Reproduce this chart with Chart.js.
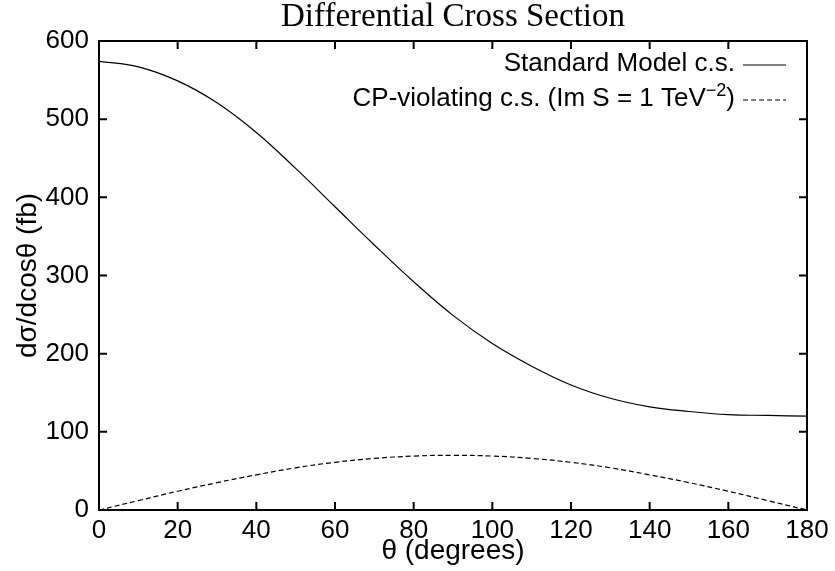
<!DOCTYPE html>
<html>
<head>
<meta charset="utf-8">
<script src="https://cdn.jsdelivr.net/npm/chart.js@4/dist/chart.umd.min.js"></script>
<style>
  html, body { margin: 0; padding: 0; background: #fff; }
</style>
</head>
<body>
<canvas id="csChart" width="835" height="571"></canvas>
<script>
// scattering angle theta (degrees)
const angles = [0, 10, 20, 30, 40, 50, 60, 70, 80, 90, 100, 110, 120, 130, 140, 150, 160, 170, 180];
// d sigma / d cos theta (fb)
const smValues = [574, 567, 549, 521, 483, 437, 388, 339, 292, 249, 213, 184, 160, 143, 132, 126, 122, 121, 120];
const cpValues = [0, 12, 24, 35, 45, 54, 61, 66, 69, 70, 69, 66, 61, 54, 45, 35, 24, 12, 0];

const xTicks = [0, 20, 40, 60, 80, 100, 120, 140, 160, 180];
const yTicks = [0, 100, 200, 300, 400, 500, 600];

const chartTitle = 'Differential Cross Section';
const smLabel = 'Standard Model c.s.';
const cpLabel = 'CP-violating c.s. (Im S = 1 TeV^{\u22122})';

const sansFont = '"Liberation Sans", Arial, Helvetica, sans-serif';
const serifFont = '"Liberation Serif", "Times New Roman", serif';

const toPoints = vals => angles.map((a, i) => ({ x: a, y: vals[i] }));

// box + inward ticks on all four sides (gnuplot look)
const framePlugin = {
  id: 'frame',
  afterDatasetsDraw(chart) {
    const { ctx, chartArea: a, scales: { x, y } } = chart;
    ctx.save();
    ctx.strokeStyle = '#000';
    ctx.lineWidth = 2;
    ctx.strokeRect(a.left, a.top, a.right - a.left, a.bottom - a.top);
    ctx.beginPath();
    x.ticks.forEach(t => {
      const px = x.getPixelForValue(t.value);
      ctx.moveTo(px, a.bottom); ctx.lineTo(px, a.bottom - 8);
      ctx.moveTo(px, a.top); ctx.lineTo(px, a.top + 8);
    });
    y.ticks.forEach(t => {
      const py = y.getPixelForValue(t.value);
      ctx.moveTo(a.left, py); ctx.lineTo(a.left + 8, py);
      ctx.moveTo(a.right, py); ctx.lineTo(a.right - 8, py);
    });
    ctx.stroke();
    ctx.restore();
  }
};

// title centred over the plot area
const titlePlugin = {
  id: 'plotTitle',
  afterDraw(chart) {
    const { ctx, chartArea: a } = chart;
    ctx.save();
    ctx.fillStyle = '#000';
    ctx.font = '33px ' + serifFont;
    ctx.textAlign = 'center';
    ctx.textBaseline = 'alphabetic';
    ctx.fillText(chartTitle, (a.left + a.right) / 2, 26);
    ctx.restore();
  }
};

// right aligned key with the line sample after the text, ^{..} = superscript
const keyPlugin = {
  id: 'key',
  afterDraw(chart) {
    const { ctx, chartArea: a } = chart;
    const textRight = a.right - 72;
    ctx.save();
    ctx.fillStyle = '#000';
    ctx.textBaseline = 'alphabetic';
    chart.data.datasets.forEach((ds, i) => {
      const base = a.top + 30 + i * 35;
      const parts = ds.label.split(/\^\{(.*?)\}/);
      const fonts = parts.map((p, k) => (k % 2 ? '18px ' : '26px ') + sansFont);
      let w = 0;
      parts.forEach((p, k) => { ctx.font = fonts[k]; w += ctx.measureText(p).width; });
      let x0 = textRight - w;
      ctx.textAlign = 'left';
      parts.forEach((p, k) => {
        ctx.font = fonts[k];
        ctx.fillText(p, x0, k % 2 ? base - 10 : base);
        x0 += ctx.measureText(p).width;
      });
      ctx.beginPath();
      ctx.strokeStyle = ds.borderColor;
      ctx.lineWidth = ds.borderWidth;
      ctx.setLineDash(ds.borderDash || []);
      ctx.moveTo(a.right - 64, base - 6);
      ctx.lineTo(a.right - 21, base - 6);
      ctx.stroke();
      ctx.setLineDash([]);
    });
    ctx.restore();
  }
};

new Chart(document.getElementById('csChart').getContext('2d'), {
  type: 'line',
  data: {
    datasets: [
      {
        label: smLabel,
        data: toPoints(smValues),
        borderColor: '#000',
        borderWidth: 1.2,
        pointRadius: 0,
        tension: 0.4,
        fill: false
      },
      {
        label: cpLabel,
        data: toPoints(cpValues),
        borderColor: '#000',
        borderWidth: 1.2,
        borderDash: [5, 3],
        pointRadius: 0,
        tension: 0.4,
        fill: false
      }
    ]
  },
  options: {
    responsive: false,
    devicePixelRatio: 1,
    animation: false,
    layout: { padding: { top: 41, right: 28, left: 0, bottom: 0 } },
    plugins: {
      legend: { display: false },
      tooltip: { enabled: false },
      title: { display: false }
    },
    scales: {
      x: {
        type: 'linear',
        min: 0,
        max: 180,
        afterBuildTicks: s => { s.ticks = xTicks.map(v => ({ value: v })); },
        afterFit: s => { s.height = 61; },
        grid: { display: false, drawTicks: false },
        border: { display: false },
        ticks: { color: '#000', padding: 5, maxRotation: 0, font: { family: sansFont, size: 26 } },
        title: {
          display: true,
          text: '\u03b8 (degrees)',
          color: '#000',
          padding: { top: 0, bottom: 3 },
          font: { family: sansFont, size: 28 }
        }
      },
      y: {
        type: 'linear',
        min: 0,
        max: 600,
        afterBuildTicks: s => { s.ticks = yTicks.map(v => ({ value: v })); },
        afterFit: s => { s.width = 99; },
        grid: { display: false, drawTicks: false },
        border: { display: false },
        ticks: { color: '#000', padding: 10, font: { family: sansFont, size: 26 } },
        title: {
          display: true,
          text: 'd\u03c3/dcos\u03b8 (fb)',
          color: '#000',
          padding: { top: 11, bottom: 0 },
          font: { family: sansFont, size: 28 }
        }
      }
    }
  },
  plugins: [framePlugin, titlePlugin, keyPlugin]
});
</script>
</body>
</html>
